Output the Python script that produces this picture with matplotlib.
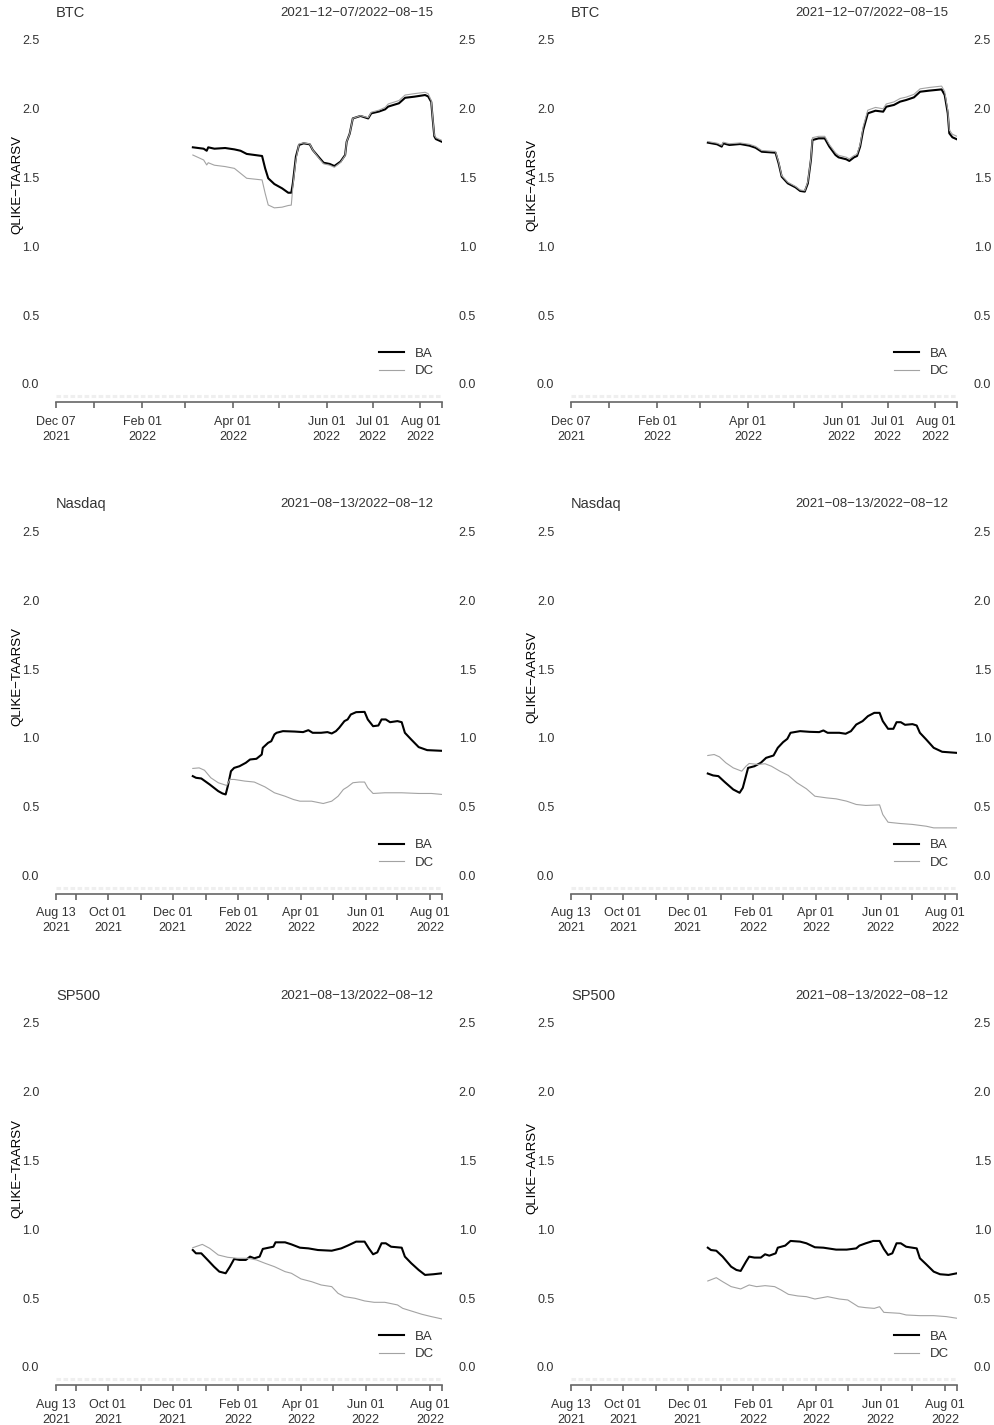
import pandas as pd
import matplotlib
matplotlib.use("Agg")
import matplotlib.pyplot as plt

plt.rcParams['font.family'] = ['Liberation Sans', 'DejaVu Sans']

# ---------------- BTC, QLIKE-TAARSV ----------------
btc_t_dates = ["2022-03-06", "2022-03-13", "2022-03-15", "2022-03-16", "2022-03-20", "2022-03-27",
               "2022-04-02", "2022-04-06", "2022-04-10", "2022-04-20", "2022-04-22", "2022-04-24",
               "2022-04-28", "2022-05-03", "2022-05-07", "2022-05-09", "2022-05-10", "2022-05-12",
               "2022-05-14", "2022-05-17", "2022-05-21", "2022-05-23", "2022-05-27", "2022-05-30",
               "2022-06-03", "2022-06-06", "2022-06-10", "2022-06-13", "2022-06-14", "2022-06-16",
               "2022-06-18", "2022-06-23", "2022-06-28", "2022-06-30", "2022-07-05", "2022-07-09",
               "2022-07-11", "2022-07-18", "2022-07-22", "2022-07-28", "2022-08-04", "2022-08-06",
               "2022-08-08", "2022-08-09", "2022-08-10", "2022-08-11", "2022-08-15"]
btc_t_ba = [1.72, 1.71, 1.695, 1.72, 1.71, 1.715, 1.705, 1.695, 1.672, 1.657, 1.567, 1.495,
            1.453, 1.422, 1.39, 1.39, 1.458, 1.652, 1.737, 1.749, 1.742, 1.70, 1.647, 1.608,
            1.599, 1.584, 1.616, 1.664, 1.76, 1.82, 1.93, 1.948, 1.93, 1.967, 1.98, 1.996,
            2.016, 2.04, 2.08, 2.088, 2.10, 2.09, 2.05, 1.92, 1.80, 1.78, 1.76]
btc_t_dc = [1.664, 1.628, 1.592, 1.608, 1.59, 1.58, 1.567, 1.531, 1.495, 1.483, 1.386, 1.301,
            1.28, 1.285, 1.297, 1.30, 1.434, 1.628, 1.745, 1.752, 1.745, 1.70, 1.64, 1.60,
            1.59, 1.575, 1.61, 1.66, 1.76, 1.82, 1.93, 1.95, 1.935, 1.975, 1.99, 2.01,
            2.035, 2.06, 2.10, 2.11, 2.12, 2.11, 2.06, 1.93, 1.81, 1.79, 1.77]

# ---------------- BTC, QLIKE-AARSV ----------------
btc_a_dates = ["2022-03-06", "2022-03-12", "2022-03-15", "2022-03-16", "2022-03-20", "2022-03-27",
               "2022-04-02", "2022-04-06", "2022-04-10", "2022-04-19", "2022-04-21", "2022-04-23",
               "2022-04-27", "2022-05-02", "2022-05-05", "2022-05-08", "2022-05-10", "2022-05-12",
               "2022-05-13", "2022-05-17", "2022-05-21", "2022-05-24", "2022-05-28", "2022-05-30",
               "2022-06-04", "2022-06-06", "2022-06-09", "2022-06-11", "2022-06-13", "2022-06-15",
               "2022-06-18", "2022-06-23", "2022-06-28", "2022-06-30", "2022-07-05", "2022-07-09",
               "2022-07-13", "2022-07-18", "2022-07-22", "2022-07-28", "2022-08-05", "2022-08-07",
               "2022-08-09", "2022-08-10", "2022-08-12", "2022-08-15"]
btc_a_ba = [1.754, 1.742, 1.725, 1.749, 1.737, 1.744, 1.732, 1.717, 1.688, 1.681, 1.604, 1.507,
            1.458, 1.429, 1.403, 1.398, 1.458, 1.628, 1.773, 1.785, 1.785, 1.725, 1.664, 1.647,
            1.633, 1.621, 1.647, 1.657, 1.725, 1.846, 1.967, 1.986, 1.979, 2.015, 2.028, 2.052,
            2.064, 2.083, 2.124, 2.132, 2.141, 2.100, 1.967, 1.822, 1.793, 1.778]
btc_a_dc = [1.762, 1.75, 1.735, 1.757, 1.746, 1.752, 1.742, 1.727, 1.697, 1.69, 1.615, 1.515,
            1.466, 1.436, 1.41, 1.405, 1.47, 1.64, 1.79, 1.80, 1.80, 1.74, 1.68, 1.662,
            1.648, 1.636, 1.66, 1.67, 1.74, 1.87, 1.99, 2.01, 2.0, 2.035, 2.05, 2.075,
            2.085, 2.105, 2.145, 2.155, 2.165, 2.125, 1.99, 1.845, 1.815, 1.80]

# ---------------- Nasdaq, QLIKE-TAARSV ----------------
nq_t_ba_dates = ["2021-12-20", "2021-12-23", "2021-12-28", "2022-01-05", "2022-01-13", "2022-01-17",
                 "2022-01-20", "2022-01-22", "2022-01-25", "2022-01-28", "2022-02-02", "2022-02-08",
                 "2022-02-12", "2022-02-18", "2022-02-23", "2022-02-24", "2022-03-01", "2022-03-04",
                 "2022-03-07", "2022-03-09", "2022-03-15", "2022-03-26", "2022-04-03", "2022-04-08",
                 "2022-04-12", "2022-04-20", "2022-04-26", "2022-04-30", "2022-05-04", "2022-05-07",
                 "2022-05-12", "2022-05-15", "2022-05-18", "2022-05-23", "2022-05-31", "2022-06-03",
                 "2022-06-08", "2022-06-13", "2022-06-16", "2022-06-20", "2022-06-24", "2022-07-01",
                 "2022-07-05", "2022-07-08", "2022-07-14", "2022-07-21", "2022-07-29", "2022-08-12"]
nq_t_ba = [0.722, 0.710, 0.705, 0.661, 0.613, 0.596, 0.589, 0.649, 0.758, 0.782, 0.794, 0.819,
           0.843, 0.848, 0.879, 0.928, 0.964, 0.976, 1.025, 1.037, 1.049, 1.046, 1.042, 1.056,
           1.037, 1.037, 1.042, 1.032, 1.049, 1.073, 1.122, 1.134, 1.170, 1.187, 1.189, 1.134,
           1.085, 1.090, 1.134, 1.134, 1.114, 1.122, 1.114, 1.037, 0.988, 0.933, 0.911, 0.906]
nq_t_dc_dates = ["2021-12-20", "2021-12-26", "2021-12-31", "2022-01-06", "2022-01-13", "2022-01-21",
                 "2022-01-24", "2022-01-28", "2022-02-07", "2022-02-16", "2022-02-26", "2022-03-07",
                 "2022-03-17", "2022-03-25", "2022-03-31", "2022-04-11", "2022-04-22", "2022-04-30",
                 "2022-05-06", "2022-05-11", "2022-05-15", "2022-05-20", "2022-05-26", "2022-05-31",
                 "2022-06-03", "2022-06-08", "2022-06-19", "2022-07-05", "2022-07-21", "2022-08-02",
                 "2022-08-12"]
nq_t_dc = [0.778, 0.782, 0.765, 0.710, 0.674, 0.654, 0.698, 0.698, 0.686, 0.679, 0.644, 0.601,
           0.576, 0.552, 0.540, 0.540, 0.523, 0.540, 0.576, 0.625, 0.644, 0.674, 0.679, 0.679,
           0.637, 0.596, 0.601, 0.601, 0.596, 0.596, 0.589]

# ---------------- Nasdaq, QLIKE-AARSV ----------------
nq_a_ba_dates = ["2021-12-20", "2021-12-25", "2021-12-30", "2022-01-05", "2022-01-13", "2022-01-19",
                 "2022-01-22", "2022-01-27", "2022-02-02", "2022-02-08", "2022-02-13", "2022-02-20",
                 "2022-02-24", "2022-03-01", "2022-03-05", "2022-03-08", "2022-03-17", "2022-03-26",
                 "2022-04-04", "2022-04-08", "2022-04-12", "2022-04-23", "2022-04-29", "2022-05-04",
                 "2022-05-09", "2022-05-15", "2022-05-20", "2022-05-26", "2022-05-31", "2022-06-03",
                 "2022-06-08", "2022-06-13", "2022-06-16", "2022-06-20", "2022-06-24", "2022-07-01",
                 "2022-07-05", "2022-07-08", "2022-07-14", "2022-07-21", "2022-07-29", "2022-08-12"]
nq_a_ba = [0.741, 0.727, 0.722, 0.679, 0.625, 0.601, 0.637, 0.782, 0.794, 0.819, 0.855, 0.872,
           0.928, 0.969, 0.993, 1.037, 1.049, 1.044, 1.042, 1.054, 1.037, 1.037, 1.030, 1.049,
           1.097, 1.122, 1.158, 1.182, 1.182, 1.122, 1.066, 1.066, 1.114, 1.114, 1.095, 1.10,
           1.09, 1.037, 0.988, 0.928, 0.899, 0.891]
nq_a_dc_dates = ["2021-12-20", "2021-12-26", "2021-12-31", "2022-01-06", "2022-01-13", "2022-01-21",
                 "2022-01-25", "2022-01-28", "2022-02-05", "2022-02-12", "2022-02-18", "2022-02-26",
                 "2022-03-06", "2022-03-14", "2022-03-23", "2022-03-31", "2022-04-11", "2022-04-20",
                 "2022-04-30", "2022-05-09", "2022-05-18", "2022-05-31", "2022-06-03", "2022-06-08",
                 "2022-06-19", "2022-07-01", "2022-07-14", "2022-07-21", "2022-08-12"]
nq_a_dc = [0.872, 0.879, 0.862, 0.819, 0.782, 0.758, 0.794, 0.814, 0.807, 0.812, 0.794, 0.758,
           0.727, 0.674, 0.630, 0.576, 0.564, 0.557, 0.540, 0.516, 0.509, 0.513, 0.443, 0.387,
           0.378, 0.371, 0.358, 0.346, 0.346]

# ---------------- SP500, QLIKE-TAARSV ----------------
sp_t_ba_dates = ["2021-12-20", "2021-12-23", "2021-12-28", "2022-01-03", "2022-01-09", "2022-01-14",
                 "2022-01-20", "2022-01-24", "2022-01-28", "2022-02-02", "2022-02-08", "2022-02-12",
                 "2022-02-16", "2022-02-21", "2022-02-24", "2022-03-06", "2022-03-08", "2022-03-17",
                 "2022-03-23", "2022-03-31", "2022-04-08", "2022-04-17", "2022-04-30", "2022-05-09",
                 "2022-05-15", "2022-05-23", "2022-05-31", "2022-06-04", "2022-06-08", "2022-06-12",
                 "2022-06-16", "2022-06-20", "2022-06-25", "2022-07-05", "2022-07-08", "2022-07-14",
                 "2022-07-21", "2022-07-27", "2022-08-04", "2022-08-12"]
sp_t_ba = [0.850, 0.826, 0.826, 0.778, 0.729, 0.693, 0.681, 0.729, 0.785, 0.778, 0.778, 0.802,
           0.790, 0.802, 0.858, 0.874, 0.906, 0.906, 0.891, 0.867, 0.862, 0.850, 0.845, 0.862,
           0.882, 0.911, 0.911, 0.862, 0.819, 0.833, 0.899, 0.899, 0.874, 0.867, 0.802, 0.754,
           0.705, 0.669, 0.674, 0.681]
sp_t_dc_dates = ["2021-12-20", "2021-12-29", "2022-01-05", "2022-01-13", "2022-01-22", "2022-01-31",
                 "2022-02-10", "2022-02-18", "2022-02-26", "2022-03-07", "2022-03-17", "2022-03-23",
                 "2022-04-01", "2022-04-11", "2022-04-20", "2022-04-30", "2022-05-06", "2022-05-12",
                 "2022-05-22", "2022-05-31", "2022-06-09", "2022-06-19", "2022-07-01", "2022-07-06",
                 "2022-07-14", "2022-07-24", "2022-08-02", "2022-08-12"]
sp_t_dc = [0.867, 0.891, 0.862, 0.814, 0.797, 0.790, 0.790, 0.778, 0.754, 0.729, 0.693, 0.681,
           0.640, 0.620, 0.596, 0.584, 0.535, 0.511, 0.499, 0.480, 0.470, 0.470, 0.451, 0.426,
           0.407, 0.383, 0.366, 0.349]

# ---------------- SP500, QLIKE-AARSV ----------------
sp_a_ba_dates = ["2021-12-20", "2021-12-23", "2021-12-28", "2022-01-03", "2022-01-11", "2022-01-16",
                 "2022-01-20", "2022-01-25", "2022-01-28", "2022-02-02", "2022-02-08", "2022-02-12",
                 "2022-02-16", "2022-02-22", "2022-02-24", "2022-03-03", "2022-03-08", "2022-03-17",
                 "2022-03-23", "2022-03-31", "2022-04-08", "2022-04-20", "2022-04-30", "2022-05-09",
                 "2022-05-12", "2022-05-18", "2022-05-25", "2022-05-31", "2022-06-04", "2022-06-08",
                 "2022-06-12", "2022-06-16", "2022-06-20", "2022-06-25", "2022-07-05", "2022-07-08",
                 "2022-07-14", "2022-07-21", "2022-07-27", "2022-08-04", "2022-08-12"]
sp_a_ba = [0.867, 0.850, 0.845, 0.802, 0.729, 0.705, 0.698, 0.765, 0.802, 0.795, 0.795, 0.819,
           0.809, 0.826, 0.867, 0.882, 0.916, 0.911, 0.899, 0.870, 0.867, 0.853, 0.853, 0.862,
           0.882, 0.899, 0.916, 0.916, 0.858, 0.814, 0.826, 0.899, 0.899, 0.874, 0.862, 0.790,
           0.746, 0.693, 0.674, 0.669, 0.681]
sp_a_dc_dates = ["2021-12-20", "2021-12-28", "2022-01-03", "2022-01-11", "2022-01-20", "2022-01-28",
                 "2022-02-04", "2022-02-12", "2022-02-21", "2022-02-27", "2022-03-06", "2022-03-15",
                 "2022-03-23", "2022-03-31", "2022-04-12", "2022-04-23", "2022-05-01", "2022-05-11",
                 "2022-05-18", "2022-05-26", "2022-05-31", "2022-06-04", "2022-06-19", "2022-06-25",
                 "2022-07-08", "2022-07-21", "2022-08-02", "2022-08-12"]
sp_a_dc = [0.625, 0.649, 0.620, 0.584, 0.567, 0.596, 0.584, 0.591, 0.584, 0.560, 0.528, 0.516,
           0.511, 0.494, 0.511, 0.494, 0.487, 0.438, 0.431, 0.426, 0.438, 0.397, 0.390, 0.378,
           0.373, 0.373, 0.366, 0.354]

# x axes (xts style)
btc_range = ("2021-12-07", "2022-08-15")
btc_ticks = ["2021-12-07", "2022-01-01", "2022-02-01", "2022-03-01", "2022-04-01", "2022-05-01",
             "2022-06-01", "2022-07-01", "2022-08-01", "2022-08-15"]
btc_ticklabels = ["Dec 07\n2021", "", "Feb 01\n2022", "", "Apr 01\n2022", "",
                  "Jun 01\n2022", "Jul 01\n2022", "Aug 01\n2022", ""]
eq_range = ("2021-08-13", "2022-08-12")
eq_ticks = ["2021-08-13", "2021-09-01", "2021-10-01", "2021-11-01", "2021-12-01", "2022-01-01",
            "2022-02-01", "2022-03-01", "2022-04-01", "2022-05-01", "2022-06-01", "2022-07-01",
            "2022-08-01", "2022-08-12"]
eq_ticklabels = ["Aug 13\n2021", "", "Oct 01\n2021", "", "Dec 01\n2021", "",
                 "Feb 01\n2022", "", "Apr 01\n2022", "", "Jun 01\n2022", "",
                 "Aug 01\n2022", ""]
y_ticks = [0.0, 0.5, 1.0, 1.5, 2.0, 2.5]

M = "\u2212"
panels = [
    (0, 0, "BTC", "QLIKE" + M + "TAARSV", btc_range, btc_ticks, btc_ticklabels,
     btc_t_dates, btc_t_ba, btc_t_dates, btc_t_dc),
    (0, 1, "BTC", "QLIKE" + M + "AARSV", btc_range, btc_ticks, btc_ticklabels,
     btc_a_dates, btc_a_ba, btc_a_dates, btc_a_dc),
    (1, 0, "Nasdaq", "QLIKE" + M + "TAARSV", eq_range, eq_ticks, eq_ticklabels,
     nq_t_ba_dates, nq_t_ba, nq_t_dc_dates, nq_t_dc),
    (1, 1, "Nasdaq", "QLIKE" + M + "AARSV", eq_range, eq_ticks, eq_ticklabels,
     nq_a_ba_dates, nq_a_ba, nq_a_dc_dates, nq_a_dc),
    (2, 0, "SP500", "QLIKE" + M + "TAARSV", eq_range, eq_ticks, eq_ticklabels,
     sp_t_ba_dates, sp_t_ba, sp_t_dc_dates, sp_t_dc),
    (2, 1, "SP500", "QLIKE" + M + "AARSV", eq_range, eq_ticks, eq_ticklabels,
     sp_a_ba_dates, sp_a_ba, sp_a_dc_dates, sp_a_dc),
]

W, H = 995, 1425
fig = plt.figure(figsize=(W / 100, H / 100), dpi=100)

TXT = "#333333"
AXC = "#666666"
col_left = [56, 571]
ax_w = 386
row_step = 491.5
top0, bot0 = 25, 402
ylim = (-0.131, 2.609)

for row, col, name, ylab, xr, ticks, tlabels, bd, bv, dd, dv in panels:
    top = top0 + row * row_step
    bot = bot0 + row * row_step
    ax = fig.add_axes([col_left[col] / W, 1 - bot / H, ax_w / W, (bot - top) / H])

    # faint dotted band just above the time axis
    ax.axhline(-0.09, color="#efefef", lw=2.2, ls=(0, (1.5, 0.8)), zorder=1)
    l1, = ax.plot(pd.to_datetime(bd), bv, color="black", lw=1.5, zorder=3)
    l2, = ax.plot(pd.to_datetime(dd), dv, color="#a3a3a3", lw=0.8, zorder=4)

    ax.set_xlim(pd.Timestamp(xr[0]), pd.Timestamp(xr[1]))
    ax.set_ylim(*ylim)

    for s in ["top", "left", "right"]:
        ax.spines[s].set_visible(False)
    ax.spines["bottom"].set_color(AXC)
    ax.spines["bottom"].set_linewidth(1.2)

    ax.set_xticks(pd.to_datetime(ticks))
    ax.set_xticklabels(tlabels)
    ax.tick_params(axis="x", direction="out", length=4.5, width=1.2, color=AXC,
                   labelsize=9, labelcolor=TXT, pad=5.5)
    for t in ax.get_xticklabels():
        t.set_linespacing(1.3)

    ax.set_yticks(y_ticks)
    ax.set_yticklabels(["%.1f" % v for v in y_ticks])
    ax.tick_params(axis="y", length=0, labelsize=9, labelcolor=TXT, pad=12,
                   left=False, right=False, labelleft=True, labelright=True)

    period = (xr[0] + "/" + xr[1]).replace("-", M)
    ax.text(0.0, 1.032, name, transform=ax.transAxes, ha="left", va="center",
            fontsize=10.5, color=TXT)
    ax.text(0.977, 1.032, period, transform=ax.transAxes,
            ha="right", va="center", fontsize=9.5, color=TXT)
    ax.text(-39 / ax_w, (bot0 - 185) / (bot0 - top0), ylab, transform=ax.transAxes,
            rotation=90, ha="center", va="center", fontsize=9.5, color="black")

    ax.legend([l1, l2], ["BA", "DC"], loc="center", bbox_to_anchor=(0.908, 0.105),
              frameon=False, fontsize=9.5, handlelength=1.9, handletextpad=0.8,
              labelspacing=0.4, borderpad=0, borderaxespad=0, labelcolor=TXT)

fig.savefig("out.png", dpi=100)
